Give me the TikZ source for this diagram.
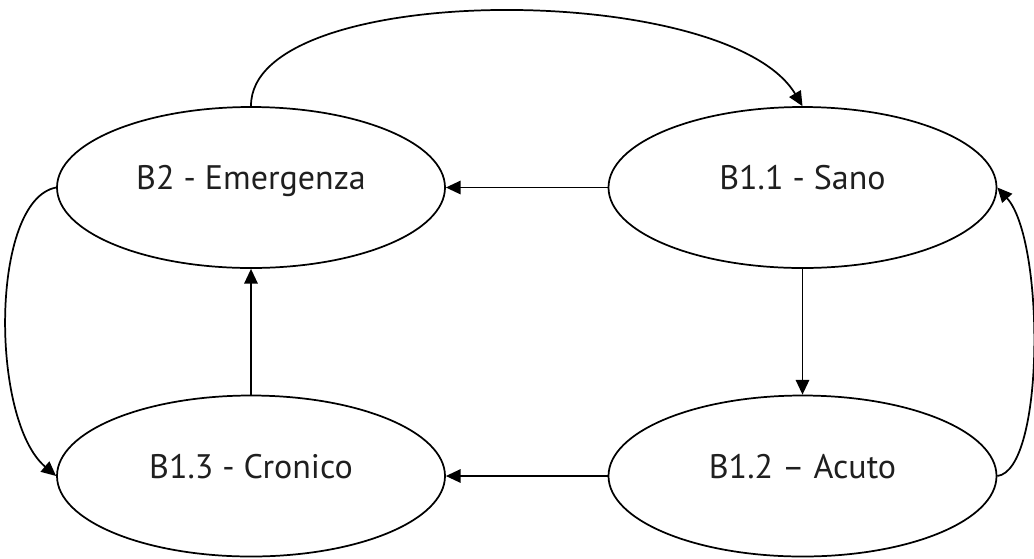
\documentclass[tikz,border=0pt]{standalone}
\usepackage{fontspec}
\setmainfont{PT Sans}
\usetikzlibrary{shapes.geometric,arrows.meta}
\begin{document}
\begin{tikzpicture}[x=0.75pt,y=-0.75pt,
  state/.style={draw=black, line width=1.3pt, ellipse, minimum width=291pt, minimum height=120.75pt, inner sep=0pt},
  lbl/.style={anchor=base, inner sep=0pt, text=black!88, font=\fontsize{25.5pt}{30pt}\selectfont},
  conn/.style={draw=black, line width=1.3pt, -{Triangle[length=11pt,width=10pt]}}]
\useasboundingbox (0,0) rectangle (1034,558);
\node[state] (B2) at (251,187.5) {};
\node[state] (B11) at (802.5,187.5) {};
\node[state] (B13) at (251,476) {};
\node[state] (B12) at (802.5,476) {};
\node[lbl] (B2t) at (251,189) {B2 - Emergenza};
\node[lbl] (B11t) at (802.5,189) {B1.1 - Sano};
\node[lbl] (B13t) at (251,478) {B1.3 - Cronico};
\node[lbl] (B12t) at (802.5,478) {B1.2 – Acuto};
\draw[conn] (B2.north) .. controls (250,-20) and (727,-20) .. (B11.north);
\draw[conn] (B11.west) -- (B2.east);
\draw[conn] (B11.south) -- (B12.north);
\draw[conn] (B12.west) -- (B13.east);
\draw[conn] (B13.north) -- (B2.south);
\draw[conn] (B2.west) .. controls (-10,200) and (-10,420) .. (B13.west);
\draw[conn] (B12.east) .. controls (1045,470) and (1045,240) .. (B11.east);
\end{tikzpicture}
\end{document}
